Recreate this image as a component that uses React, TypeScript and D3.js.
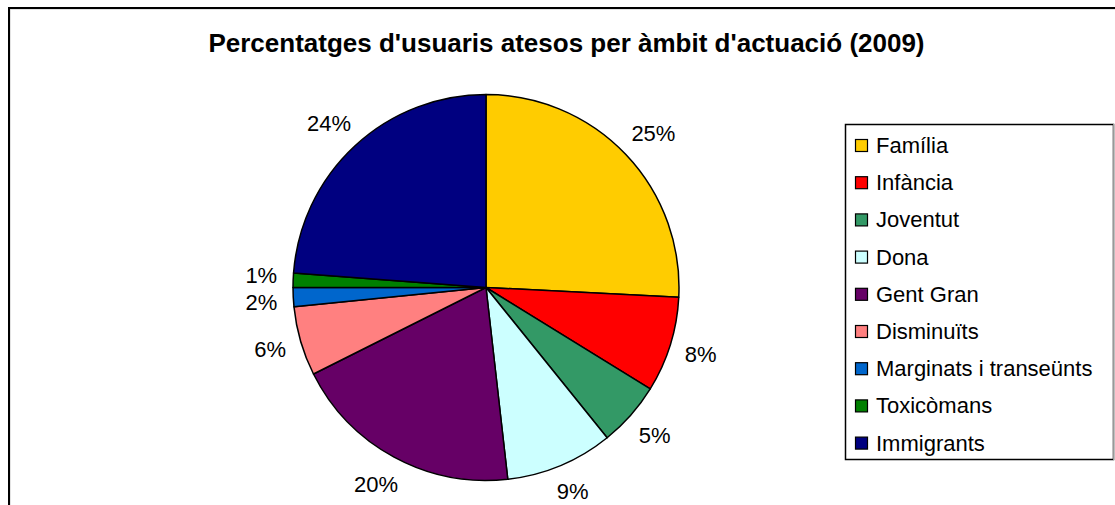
import React from "react";
import * as d3 from "d3";

const categories = [
  "Família",
  "Infància",
  "Joventut",
  "Dona",
  "Gent Gran",
  "Disminuïts",
  "Marginats i transeünts",
  "Toxicòmans",
  "Immigrants",
];
const values = [25.8, 8.0, 5.4, 9.0, 19.4, 5.8, 1.6, 1.2, 23.8];
const percentLabels = ["25%", "8%", "5%", "9%", "20%", "6%", "2%", "1%", "24%"];
const colors = [
  "#FFCC00",
  "#FF0000",
  "#339966",
  "#CCFFFF",
  "#660066",
  "#FF8080",
  "#0066CC",
  "#008000",
  "#000080",
];
const title = "Percentatges d'usuaris atesos per àmbit d'actuació (2009)";

const W = 1115;
const H = 505;
const FONT = "'Liberation Sans', Arial, Helvetica, sans-serif";
const cx = 486;
const cy = 287.5;
const R = 193;
const labelFs = 22;

export default function App() {
  const pie = d3
    .pie<number>()
    .sort(null)
    .value((d) => d)(values);
  const arc = d3.arc<d3.PieArcDatum<number>>().innerRadius(0).outerRadius(R);

  const charW = (s: string) =>
    Array.from(s).reduce((a, c) => a + (c === "%" ? 0.889 : 0.556), 0) * labelFs;

  // initial label positions outside the pie
  const labels = pie.map((p, i) => {
    const a = (p.startAngle + p.endAngle) / 2;
    const s = Math.sin(a);
    const c = Math.cos(a);
    const w = charW(percentLabels[i]);
    const h = 30;
    const rr = R + 16;
    return {
      i,
      side: s >= 0 ? 1 : -1,
      x: rr * s + (w / 2) * s,
      y: -rr * c - (h / 2) * c,
    };
  });
  // simple vertical collision resolution per side
  const minGap = 27;
  [1, -1].forEach((side) => {
    const group = labels.filter((l) => l.side === side).sort((a, b) => a.y - b.y);
    for (let iter = 0; iter < 20; iter++) {
      let moved = false;
      for (let k = 1; k < group.length; k++) {
        const d = group[k].y - group[k - 1].y;
        if (d < minGap) {
          const push = (minGap - d) / 2;
          group[k - 1].y -= push;
          group[k].y += push;
          moved = true;
        }
      }
      if (!moved) break;
    }
  });
  // keep labels inside the picture
  const maxY = H - cy - 14;
  labels.forEach((l) => {
    if (l.y > maxY) l.y = maxY;
  });

  const legendX = 845;
  const legendY = 124;
  const legendW = 269;
  const legendH = 335;
  const rowStep = 37.2;
  const firstRow = 145.5;

  return (
    <svg
      width={W}
      height={H}
      style={{ position: "absolute", left: 0, top: 0, display: "block" }}
      fontFamily={FONT}
    >
      <rect x={0} y={0} width={W} height={H} fill="#fff" />
      {/* outer frame */}
      <rect x={10} y={9} width={1300} height={700} fill="none" stroke="#c8c8c8" strokeWidth={1} />
      <rect x={9} y={8} width={1300} height={700} fill="none" stroke="#000" strokeWidth={2} />

      <text
        x={566.5}
        y={52}
        textAnchor="middle"
        fontSize={26}
        fontWeight="bold"
        fill="#000"
      >
        {title}
      </text>

      <g transform={`translate(${cx},${cy})`}>
        {pie.map((p, i) => (
          <path
            key={i}
            d={arc(p) || ""}
            fill={colors[i]}
            stroke="#000"
            strokeWidth={1.5}
            strokeLinejoin="round"
          />
        ))}
        {labels.map((l) => (
          <text
            key={"l" + l.i}
            x={l.x}
            y={l.y}
            textAnchor="middle"
            dominantBaseline="central"
            fontSize={labelFs}
            fill="#000"
          >
            {percentLabels[l.i]}
          </text>
        ))}
      </g>

      {/* legend */}
      <rect
        x={legendX + 0.5}
        y={legendY + 0.5}
        width={legendW - 1}
        height={legendH}
        fill="#fff"
        stroke="#000"
        strokeWidth={1.5}
      />
      <line x1={legendX + legendW - 0.5} x2={legendX + legendW - 0.5} y1={legendY} y2={legendY + legendH + 1} stroke="#999" strokeWidth={1} />
      {categories.map((name, i) => {
        const yc = firstRow + i * rowStep;
        return (
          <g key={"lg" + i}>
            <rect
              x={855.5}
              y={yc - 6}
              width={12}
              height={12}
              fill={colors[i]}
              stroke="#000"
              strokeWidth={1.2}
            />
            <text
              x={876}
              y={yc}
              dominantBaseline="central"
              fontSize={22}
              fill="#000"
            >
              {name}
            </text>
          </g>
        );
      })}
    </svg>
  );
}
